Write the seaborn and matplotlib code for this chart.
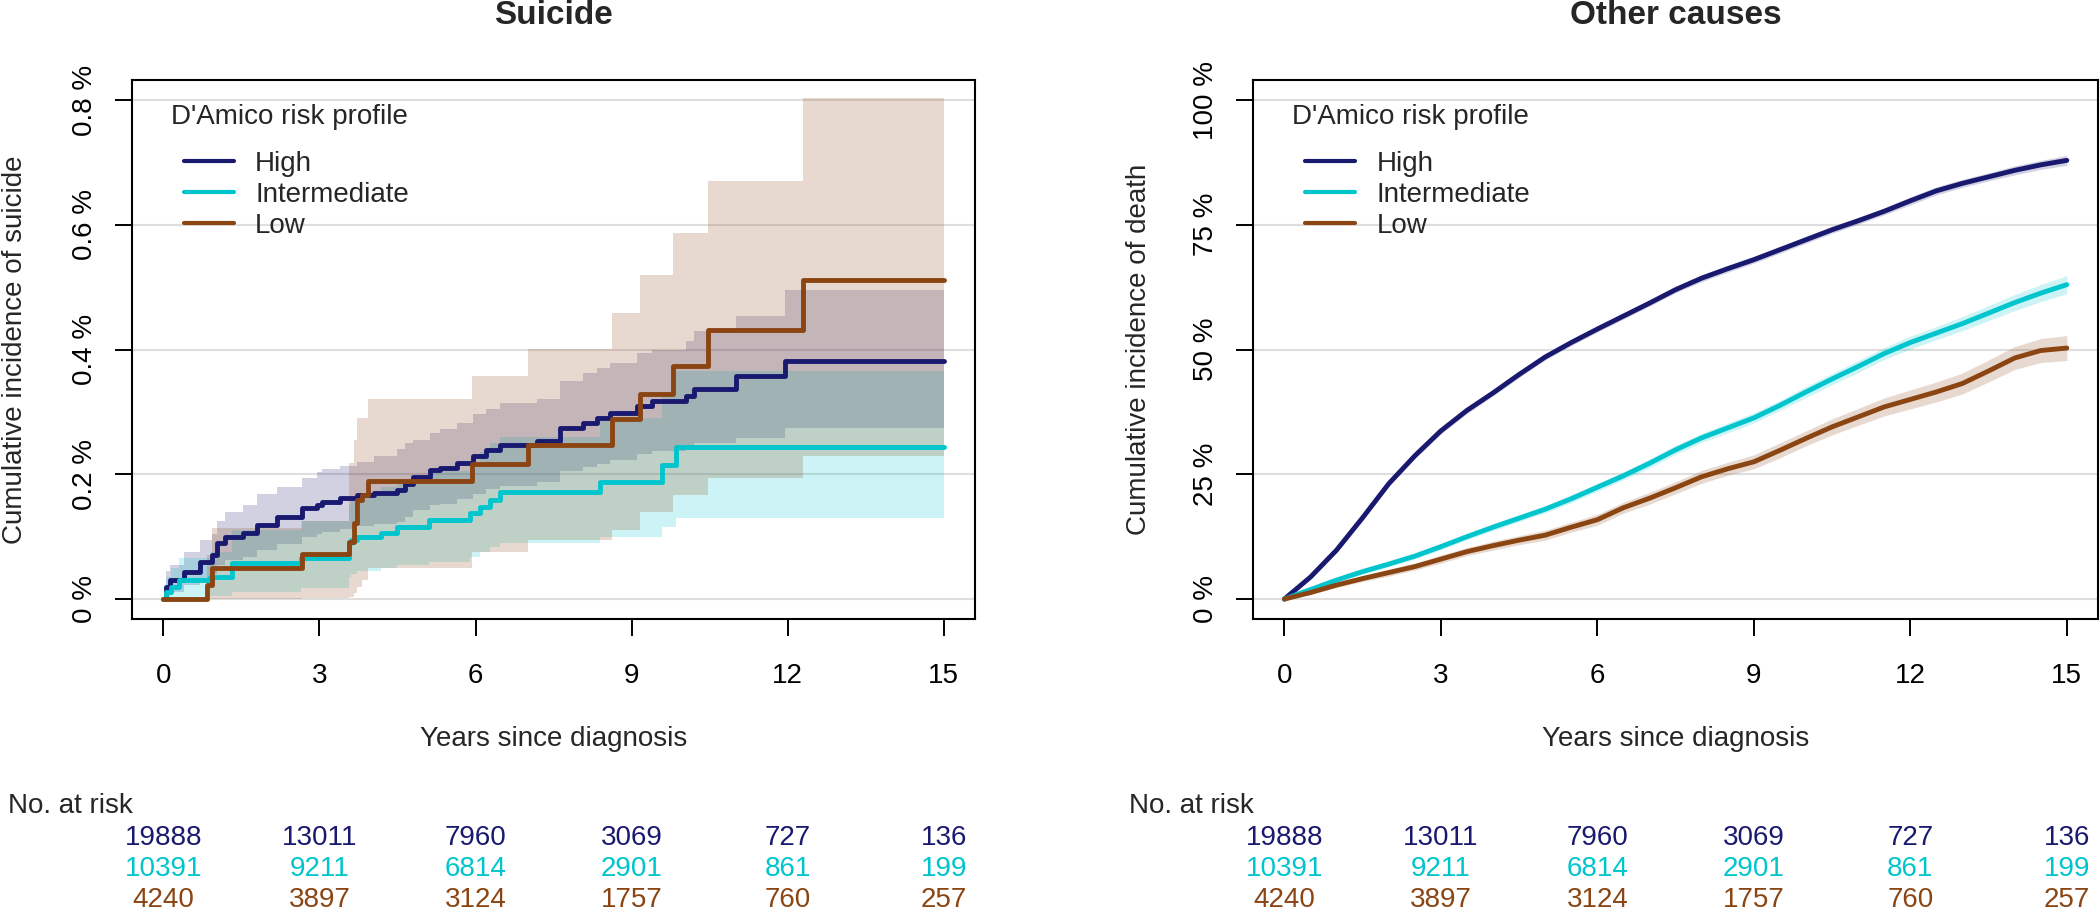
import pandas as pd
import seaborn as sns
import matplotlib.pyplot as plt
from matplotlib.lines import Line2D
from matplotlib.transforms import blended_transform_factory

sns.set_theme(style="white")
plt.rcParams['font.family'] = ['Liberation Sans', 'DejaVu Sans']

groups = ["High", "Intermediate", "Low"]
colors = {"High": "#191970", "Intermediate": "#00C5CD", "Low": "#8B4513"}

# --- Suicide: step estimates in %, each value holds from t to the next t
sui_t_high = [0, 0.05, 0.13, 0.39, 0.71, 0.93, 1.03, 1.19, 1.54, 1.8, 2.18, 2.66, 2.95, 3.05, 3.4, 3.72,
              4.04, 4.49, 4.65, 4.8, 5.13, 5.32, 5.64, 5.96, 6.21, 6.47, 7.18, 7.62, 8.07, 8.33, 8.58,
              9.1, 9.4, 10.05, 10.19, 11.0, 11.94, 15]
sui_v_high = [0, 0.02, 0.03, 0.044, 0.06, 0.07, 0.09, 0.10, 0.106, 0.119, 0.132, 0.146, 0.151, 0.155,
              0.162, 0.167, 0.170, 0.175, 0.185, 0.196, 0.207, 0.21, 0.218, 0.229, 0.239, 0.247, 0.253,
              0.274, 0.282, 0.29, 0.298, 0.309, 0.317, 0.325, 0.336, 0.357, 0.381, 0.381]
sui_hi_high = [0, 0.045, 0.055, 0.075, 0.095, 0.105, 0.125, 0.14, 0.151, 0.168, 0.18, 0.194, 0.204, 0.208,
               0.213, 0.22, 0.23, 0.24, 0.25, 0.255, 0.266, 0.272, 0.282, 0.296, 0.304, 0.314, 0.32,
               0.349, 0.363, 0.37, 0.379, 0.395, 0.40, 0.413, 0.429, 0.453, 0.495, 0.495]
sui_lo_high = [0, 0.005, 0.012, 0.022, 0.032, 0.04, 0.055, 0.062, 0.067, 0.078, 0.088, 0.1, 0.104, 0.107,
               0.113, 0.117, 0.12, 0.124, 0.132, 0.142, 0.15, 0.153, 0.16, 0.168, 0.176, 0.182, 0.187,
               0.205, 0.211, 0.217, 0.223, 0.232, 0.238, 0.245, 0.25, 0.258, 0.274, 0.274]

sui_t_int = [0, 0.05, 0.15, 0.3, 0.9, 1.32, 2.64, 3.56, 3.6, 3.72, 4.18, 4.5, 5.1, 5.9, 6.09, 6.28, 6.47,
             8.39, 9.58, 9.86, 15]
sui_v_int = [0, 0.012, 0.02, 0.03, 0.036, 0.058, 0.066, 0.09, 0.094, 0.1, 0.106, 0.116, 0.127, 0.138,
             0.148, 0.159, 0.172, 0.188, 0.215, 0.243, 0.243]
sui_hi_int = [0, 0.035, 0.05, 0.065, 0.075, 0.11, 0.125, 0.15, 0.16, 0.17, 0.18, 0.19, 0.205, 0.22,
              0.235, 0.25, 0.26, 0.29, 0.33, 0.365, 0.365]
sui_lo_int = [0, 0, 0.001, 0.003, 0.005, 0.012, 0.018, 0.035, 0.04, 0.045, 0.05, 0.055, 0.06, 0.067,
              0.075, 0.083, 0.09, 0.1, 0.115, 0.13, 0.13]

sui_t_low = [0, 0.84, 0.935, 2.66, 3.56, 3.66, 3.72, 3.82, 3.94, 5.93, 7.0, 8.62, 9.16, 9.8, 10.47, 12.3, 15]
sui_v_low = [0, 0.022, 0.049, 0.073, 0.092, 0.122, 0.159, 0.166, 0.189, 0.217, 0.247, 0.288, 0.329,
             0.374, 0.432, 0.512, 0.512]
sui_hi_low = [0, 0.07, 0.114, 0.125, 0.218, 0.255, 0.29, 0.29, 0.321, 0.357, 0.401, 0.459, 0.52,
              0.587, 0.67, 0.803, 0.803]
sui_lo_low = [0, 0, 0, 0.001, 0.003, 0.01, 0.02, 0.03, 0.05, 0.076, 0.095, 0.11, 0.14, 0.167, 0.194,
              0.229, 0.229]

# --- Other causes: cumulative incidence in %, read every half year
oc_t = [0, 0.5, 1, 1.5, 2, 2.5, 3, 3.5, 4, 4.5, 5, 5.5, 6, 6.5, 7, 7.5, 8, 8.5, 9, 9.5, 10,
        10.5, 11, 11.5, 12, 12.5, 13, 13.5, 14, 14.5, 15]
oc_high = [0, 4.4, 9.8, 16.3, 23.1, 28.7, 33.7, 37.8, 41.3, 45.0, 48.5, 51.4, 54.1, 56.7, 59.3, 62.0,
           64.3, 66.2, 68.0, 70.0, 72.0, 74.0, 75.8, 77.7, 79.8, 81.8, 83.3, 84.6, 85.9, 87.0, 87.9]
oc_int = [0, 1.9, 3.8, 5.5, 7.0, 8.6, 10.5, 12.5, 14.4, 16.2, 18.0, 20.1, 22.4, 24.7, 27.2, 29.9,
          32.3, 34.3, 36.3, 38.8, 41.5, 44.1, 46.6, 49.2, 51.4, 53.3, 55.2, 57.3, 59.4, 61.3, 63.0]
oc_low = [0, 1.3, 2.8, 4.1, 5.3, 6.5, 8.0, 9.5, 10.7, 11.8, 12.8, 14.4, 15.9, 18.3, 20.2, 22.3,
          24.5, 26.1, 27.5, 29.8, 32.2, 34.5, 36.5, 38.5, 40.0, 41.5, 43.2, 45.7, 48.3, 49.8, 50.3]
# half width of the confidence band
oc_hw_high = [0, 0.3, 0.4, 0.5, 0.5, 0.6, 0.6, 0.6, 0.6, 0.6, 0.6, 0.6, 0.6, 0.6, 0.6, 0.6,
              0.7, 0.7, 0.7, 0.7, 0.7, 0.7, 0.7, 0.7, 0.8, 0.8, 0.8, 0.8, 0.9, 0.9, 1.0]
oc_hw_int = [0, 0.3, 0.4, 0.5, 0.5, 0.6, 0.6, 0.6, 0.7, 0.7, 0.7, 0.8, 0.8, 0.8, 0.9, 0.9,
             0.9, 1.0, 1.0, 1.0, 1.1, 1.1, 1.2, 1.2, 1.3, 1.3, 1.4, 1.5, 1.6, 1.7, 1.8]
oc_hw_low = [0, 0.4, 0.5, 0.6, 0.7, 0.7, 0.8, 0.8, 0.9, 0.9, 1.0, 1.0, 1.1, 1.1, 1.2, 1.2,
             1.3, 1.3, 1.4, 1.5, 1.5, 1.6, 1.7, 1.8, 1.9, 2.0, 2.1, 2.2, 2.3, 2.4, 2.5]

# --- Numbers at risk
risk_times = [0, 3, 6, 9, 12, 15]
risk_high = [19888, 13011, 7960, 3069, 727, 136]
risk_int = [10391, 9211, 6814, 2901, 861, 199]
risk_low = [4240, 3897, 3124, 1757, 760, 257]
risk = {"High": risk_high, "Intermediate": risk_int, "Low": risk_low}

sui = pd.concat([
    pd.DataFrame({"t": sui_t_high, "v": sui_v_high, "lo": sui_lo_high, "hi": sui_hi_high, "group": "High"}),
    pd.DataFrame({"t": sui_t_int, "v": sui_v_int, "lo": sui_lo_int, "hi": sui_hi_int, "group": "Intermediate"}),
    pd.DataFrame({"t": sui_t_low, "v": sui_v_low, "lo": sui_lo_low, "hi": sui_hi_low, "group": "Low"}),
])
oc = pd.concat([
    pd.DataFrame({"t": oc_t, "v": oc_high, "hw": oc_hw_high, "group": "High"}),
    pd.DataFrame({"t": oc_t, "v": oc_int, "hw": oc_hw_int, "group": "Intermediate"}),
    pd.DataFrame({"t": oc_t, "v": oc_low, "hw": oc_hw_low, "group": "Low"}),
])
oc["lo"] = oc["v"] - oc["hw"]
oc["hi"] = oc["v"] + oc["hw"]

fig = plt.figure(figsize=(21, 9.18), dpi=100)
ax1 = fig.add_axes([0.0629, 0.3257, 0.4014, 0.5871])
ax2 = fig.add_axes([0.5967, 0.3257, 0.4024, 0.5871])

panels = [
    (ax1, sui, True, "Suicide", "Cumulative incidence of suicide",
     [0, 0.2, 0.4, 0.6, 0.8], ["0 %", "0.2 %", "0.4 %", "0.6 %", "0.8 %"], (-0.032, 0.832)),
    (ax2, oc, False, "Other causes", "Cumulative incidence of death",
     [0, 25, 50, 75, 100], ["0 %", "25 %", "50 %", "75 %", "100 %"], (-4, 104)),
]

for ax, df, steps, title, ylab, yt, ytl, ylim in panels:
    for g in groups:
        d = df[df["group"] == g]
        ax.fill_between(d["t"], d["lo"], d["hi"], step="post" if steps else None,
                        color=colors[g], alpha=0.2, linewidth=0, zorder=1)
    kw = {"drawstyle": "steps-post"} if steps else {}
    sns.lineplot(data=df, x="t", y="v", hue="group", hue_order=groups, palette=colors,
                 estimator=None, linewidth=3.5, legend=False, ax=ax, zorder=3, **kw)

    ax.set_xlim(-0.6, 15.6)
    ax.set_ylim(*ylim)
    ax.set_xticks(risk_times)
    ax.set_yticks(yt, ytl, rotation=90, va="center")
    ax.set_axisbelow(True)
    ax.yaxis.grid(True, color="#DEDEDE", linewidth=1.5)
    ax.xaxis.grid(False)
    for s in ax.spines.values():
        s.set_color("black")
        s.set_linewidth(1.5)
    ax.tick_params(axis="both", direction="out", length=12.5, width=1.4, labelsize=20,
                   colors="black", bottom=True, left=True)
    ax.tick_params(axis="x", pad=19)
    ax.tick_params(axis="y", pad=12)

    ax.set_xlabel("Years since diagnosis", fontsize=20)
    ax.xaxis.set_label_coords(0.5, -0.199)
    ax.set_ylabel(ylab, fontsize=20)
    ax.yaxis.set_label_coords(-0.123 if steps else -0.12, 0.5)

    pos = ax.get_position()
    fig.text(pos.x0 + pos.width / 2, 0.9739, title, ha="center", va="baseline",
             fontsize=24, fontweight="bold")

    handles = [Line2D([], [], color=colors[g], lw=3) for g in groups]
    ax.legend(handles, groups, loc="upper left", bbox_to_anchor=(0.062, 0.868), frameon=False,
              fontsize=20, handlelength=1.8, handletextpad=0.75, labelspacing=0.18,
              borderpad=0, borderaxespad=0)
    ax.text(0.046, 0.932, "D'Amico risk profile", transform=ax.transAxes, fontsize=20,
            ha="left", va="center")

    trans = blended_transform_factory(ax.transData, ax.transAxes)
    ax.text(-0.147, -0.347, "No. at risk", transform=ax.transAxes, ha="left", va="center",
            fontsize=20, clip_on=False)
    for row, g in enumerate(groups):
        for t, n in zip(risk_times, risk[g]):
            ax.text(t, -0.4063 - 0.0575 * row, str(n), transform=trans, ha="center", va="center",
                    fontsize=20, color=colors[g], clip_on=False)

fig.savefig("out.png", dpi=100)
